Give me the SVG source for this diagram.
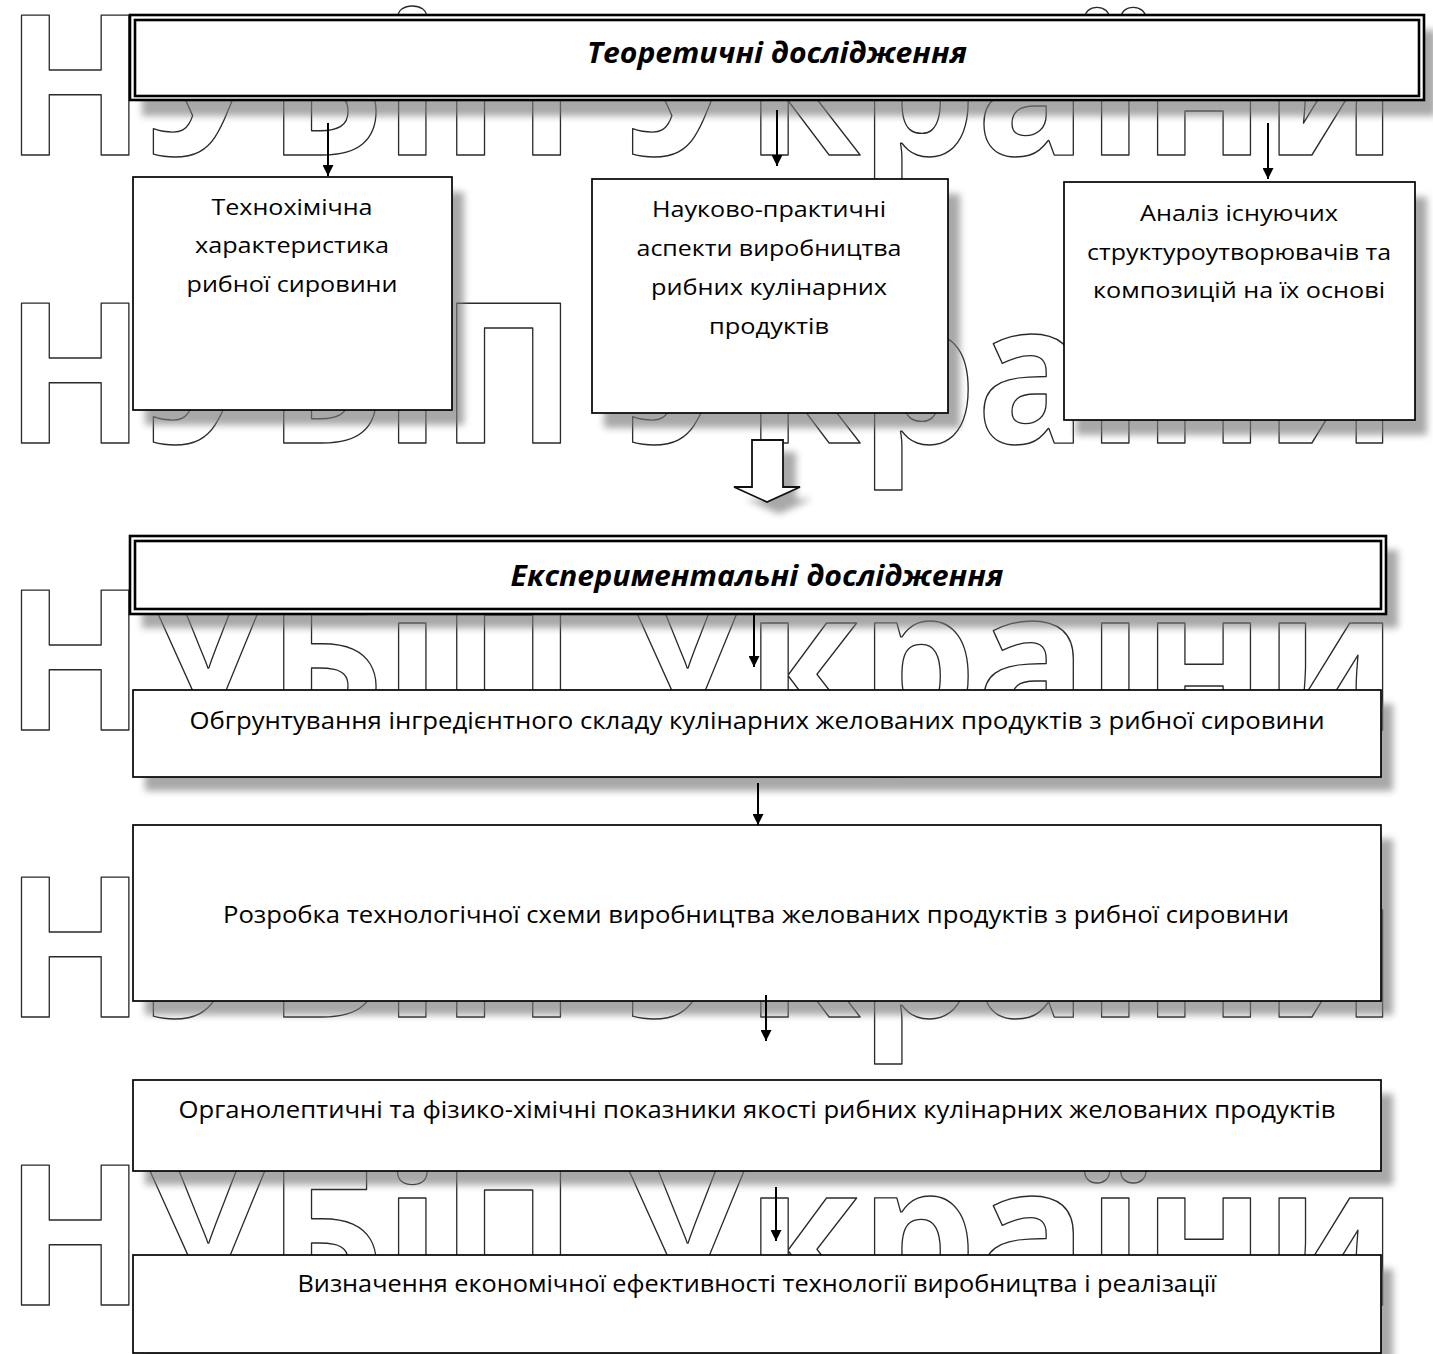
<svg xmlns="http://www.w3.org/2000/svg" width="1433" height="1354" viewBox="0 0 1433 1354">
  <defs>
    <filter id="blur" x="-10%" y="-30%" width="120%" height="160%">
      <feGaussianBlur stdDeviation="3.5"/>
    </filter>
    <marker id="ah" viewBox="0 0 10 10" refX="10" refY="5" markerWidth="15" markerHeight="11" markerUnits="userSpaceOnUse" orient="auto">
      <path d="M0,0 L10,5 L0,10 z" fill="#000"/>
    </marker>
    <style>
      .wm { font-family: "Open Sans", "DejaVu Sans", sans-serif; font-weight: bold; font-size: 196px; fill: none; stroke: #2a2a2a; stroke-width: 1.4; stroke-linejoin: round; }
      .shadow { fill: #7a7a7a; opacity: 0.65; filter: url(#blur); }
      .box { fill: #fff; stroke: #000; stroke-width: 1.7; }
      .dbl { fill: #fff; stroke: #000; stroke-width: 2.6; }
      .dbl2 { fill: none; stroke: #000; stroke-width: 2.6; }
      .t { font-family: "Open Sans", "Liberation Sans", sans-serif; font-size: 22.5px; fill: #000; text-anchor: middle; }
      .tl { font-size: 24.5px; }
      .h { font-weight: bold; font-style: italic; font-size: 28px; }
      .conn { stroke: #000; stroke-width: 2; fill: none; marker-end: url(#ah); }
      .block { fill: #fff; stroke: #111; stroke-width: 1.8; stroke-linejoin: miter; }
    </style>
  </defs>
  <rect width="1433" height="1354" fill="#fff"/>

  <g id="watermark">
    <text class="wm" x="5" y="155" textLength="1392" lengthAdjust="spacingAndGlyphs">НУБіП України</text>
    <text class="wm" x="5" y="443" textLength="1392" lengthAdjust="spacingAndGlyphs">НУБіП України</text>
    <text class="wm" x="5" y="730" textLength="1392" lengthAdjust="spacingAndGlyphs">НУБіП України</text>
    <text class="wm" x="5" y="1017" textLength="1392" lengthAdjust="spacingAndGlyphs">НУБіП України</text>
    <text class="wm" x="5" y="1305" textLength="1392" lengthAdjust="spacingAndGlyphs">НУБіП України</text>
  </g>

  <g id="shadows">
    <rect class="shadow" x="142" y="30" width="1294" height="86"/>
    <rect class="shadow" x="145" y="192" width="319" height="233"/>
    <rect class="shadow" x="604" y="194" width="356" height="234"/>
    <rect class="shadow" x="1076" y="197" width="351" height="238"/>
    <path class="shadow" d="M764,452 L796,452 L796,499 L812,499 L779,514 L746,499 L764,499 Z"/>
    <rect class="shadow" x="142" y="550" width="1256" height="78"/>
    <rect class="shadow" x="145" y="704" width="1248" height="87"/>
    <rect class="shadow" x="145" y="839" width="1248" height="176"/>
    <rect class="shadow" x="145" y="1094" width="1248" height="91"/>
    <rect class="shadow" x="145" y="1269" width="1248" height="98"/>
  </g>

  <g id="node-theory">
    <rect class="dbl" x="130" y="15" width="1294" height="85"/>
    <rect class="dbl2" x="135" y="20" width="1284" height="76"/>
    <text class="t h" x="777" y="63" textLength="380" lengthAdjust="spacingAndGlyphs">Теоретичні дослідження</text>
  </g>

  <g id="node-techchem">
    <rect class="box" x="133" y="177" width="319" height="233"/>
    <text class="t" x="292" y="215" textLength="161" lengthAdjust="spacingAndGlyphs">Технохімічна</text>
    <text class="t" x="292" y="253" textLength="194" lengthAdjust="spacingAndGlyphs">характеристика</text>
    <text class="t" x="292" y="292" textLength="211" lengthAdjust="spacingAndGlyphs">рибної сировини</text>
  </g>

  <g id="node-aspects">
    <rect class="box" x="592" y="179" width="356" height="234"/>
    <text class="t" x="769" y="217" textLength="234" lengthAdjust="spacingAndGlyphs">Науково-практичні</text>
    <text class="t" x="769" y="256" textLength="265" lengthAdjust="spacingAndGlyphs">аспекти виробництва</text>
    <text class="t" x="769" y="295" textLength="236" lengthAdjust="spacingAndGlyphs">рибних кулінарних</text>
    <text class="t" x="769" y="334" textLength="120" lengthAdjust="spacingAndGlyphs">продуктів</text>
  </g>

  <g id="node-analysis">
    <rect class="box" x="1064" y="182" width="351" height="238"/>
    <text class="t" x="1239" y="221" textLength="198" lengthAdjust="spacingAndGlyphs">Аналіз існуючих</text>
    <text class="t" x="1239" y="260" textLength="304" lengthAdjust="spacingAndGlyphs">структуроутворювачів та</text>
    <text class="t" x="1239" y="298" textLength="292" lengthAdjust="spacingAndGlyphs">композицій на їх основі</text>
  </g>

  <g id="node-block-arrow">
    <path class="block" d="M752,440 L783,440 L783,487 L800,487 L767,502 L734,487 L752,487 Z"/>
  </g>

  <g id="node-experiment">
    <rect class="dbl" x="130" y="536" width="1256" height="78"/>
    <rect class="dbl2" x="135" y="541" width="1246" height="68"/>
    <text class="t h" x="757" y="586" textLength="493" lengthAdjust="spacingAndGlyphs">Експериментальні дослідження</text>
  </g>

  <g id="node-substantiation">
    <rect class="box" x="133" y="690" width="1248" height="87"/>
    <text class="t tl" x="757" y="729" textLength="1135" lengthAdjust="spacingAndGlyphs">Обгрунтування інгредієнтного складу кулінарних желованих продуктів з рибної сировини</text>
  </g>

  <g id="node-scheme">
    <rect class="box" x="133" y="825" width="1248" height="176"/>
    <text class="t tl" x="756" y="923" textLength="1066" lengthAdjust="spacingAndGlyphs">Розробка технологічної схеми виробництва желованих продуктів з рибної сировини</text>
  </g>

  <g id="node-quality">
    <rect class="box" x="133" y="1080" width="1248" height="91"/>
    <text class="t tl" x="757" y="1118" textLength="1157" lengthAdjust="spacingAndGlyphs">Органолептичні та фізико-хімічні показники якості рибних кулінарних желованих продуктів</text>
  </g>

  <g id="node-economics">
    <rect class="box" x="133" y="1255" width="1248" height="98"/>
    <text class="t tl" x="757" y="1292" textLength="919" lengthAdjust="spacingAndGlyphs">Визначення економічної ефективності технології виробництва і реалізації</text>
  </g>

  <g id="connectors">
    <line class="conn" x1="328" y1="123" x2="328" y2="176"/>
    <line class="conn" x1="777" y1="110" x2="777" y2="166"/>
    <line class="conn" x1="1268" y1="123" x2="1268" y2="179"/>
    <line class="conn" x1="754" y1="615" x2="754" y2="667"/>
    <line class="conn" x1="758" y1="783" x2="758" y2="825"/>
    <line class="conn" x1="766" y1="995" x2="766" y2="1041"/>
    <line class="conn" x1="776" y1="1187" x2="776" y2="1241"/>
  </g>
</svg>
